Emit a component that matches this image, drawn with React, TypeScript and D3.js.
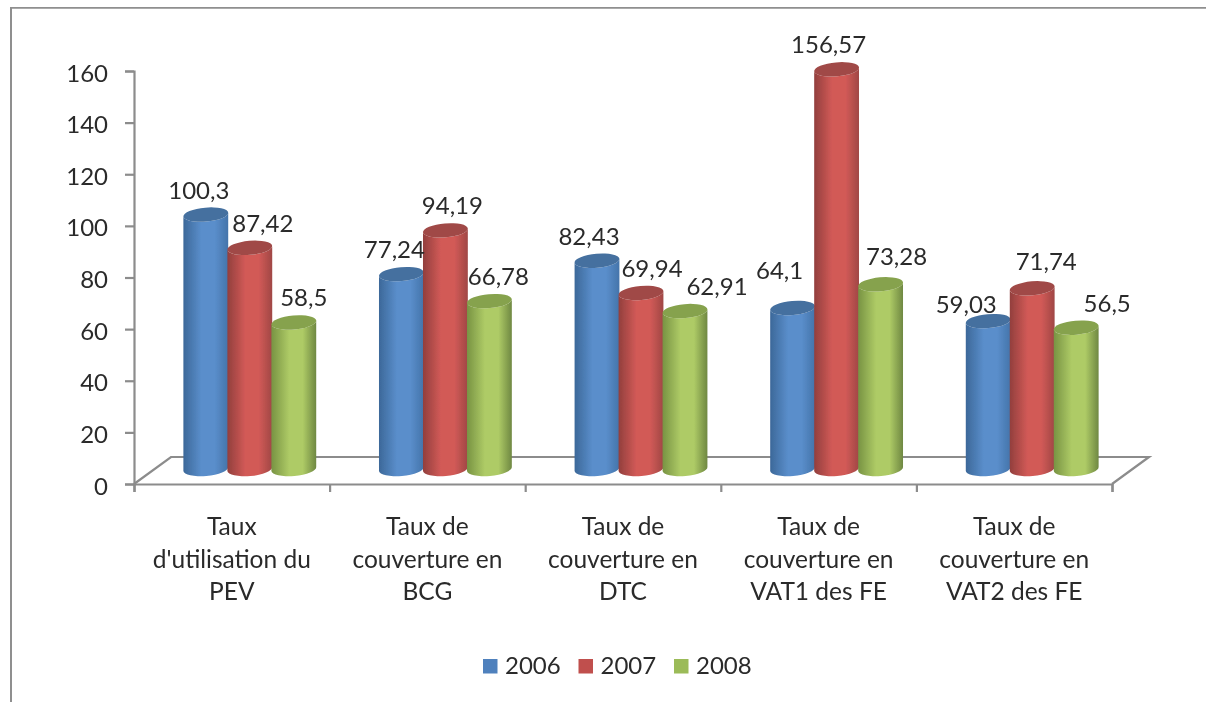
import React, { useEffect, useRef } from "react";
import * as d3 from "d3";

const categories = [
  ["Taux", "d'utilisation du", "PEV"],
  ["Taux de", "couverture en", "BCG"],
  ["Taux de", "couverture en", "DTC"],
  ["Taux de", "couverture en", "VAT1 des FE"],
  ["Taux de", "couverture en", "VAT2 des FE"],
];
const years = ["2006", "2007", "2008"];
const values2006 = [100.3, 77.24, 82.43, 64.1, 59.03];
const values2007 = [87.42, 94.19, 69.94, 156.57, 71.74];
const values2008 = [58.5, 66.78, 62.91, 73.28, 56.5];
const seriesValues = [values2006, values2007, values2008];
const yTicks = [0, 20, 40, 60, 80, 100, 120, 140, 160];

// colours per series: dark edge, light centre, far edge, top cap, legend
const palette = [
  { edge: "#3c6899", mid: "#5a8ecb", far: "#4474aa", cap: "#45709f", flat: "#4f81bd" },
  { edge: "#923f3d", mid: "#d25a57", far: "#a04745", cap: "#a04a47", flat: "#c0504d" },
  { edge: "#789343", mid: "#aecb66", far: "#6f8842", cap: "#86a24d", flat: "#9bbb59" },
];

// hand placed labels, same as moving them in the original chart
const labelDx = [
  [-7, 13, 10],
  [-7, 7, 9],
  [-8, 11, 32],
  [-13, -8, 16],
  [-22, 14, 31],
];
const labelDy = [
  [0, 0, 0],
  [0, 0, 0],
  [0, 0, 0],
  [-13, 0, -3],
  [8, -2, 0],
];

const WIDTH = 1206;
const HEIGHT = 702;
const FONT = "Lato, 'Open Sans', sans-serif";
const AXIS_GREY = "#8c8c8c";
const TEXT = "#2a2a2a";

export default function App() {
  const ref = useRef<SVGSVGElement>(null);

  useEffect(() => {
    const svg = d3.select(ref.current);
    svg.selectAll("*").remove();

    const x = d3.scaleBand<number>().domain(d3.range(categories.length)).range([134, 1112]);
    const y = d3.scaleLinear().domain([0, 160]).range([484, 71]);
    const inner = d3.scaleBand<number>().domain(d3.range(years.length)).range([0, 132]);

    const depthX = 37;
    const depthY = 27;
    const barShiftX = x.bandwidth() / 2 - 66 + 18;
    const capShiftY = -10.5;
    const baseY = 469;
    const rx = 22.5;
    const ry = 7;
    const tilt = -5;
    const tx = rx * Math.cos((tilt * Math.PI) / 180);
    const ty = rx * Math.sin((tilt * Math.PI) / 180);

    const root = svg.append("g").attr("filter", "url(#soft)");
    const defs = svg.append("defs");
    defs
      .append("filter")
      .attr("id", "soft")
      .attr("x", 0)
      .attr("y", 0)
      .attr("width", 1)
      .attr("height", 1)
      .append("feGaussianBlur")
      .attr("stdDeviation", 0.6);

    palette.forEach((c, i) => {
      const grad = defs.append("linearGradient").attr("id", "body" + i);
      grad.append("stop").attr("offset", "0%").attr("stop-color", c.edge);
      grad.append("stop").attr("offset", "40%").attr("stop-color", c.mid);
      grad.append("stop").attr("offset", "70%").attr("stop-color", c.mid);
      grad.append("stop").attr("offset", "100%").attr("stop-color", c.far);
    });

    // outer frame, cropped on the right and bottom
    root
      .append("path")
      .attr("d", `M10.7,${HEIGHT} V7.4 H${WIDTH}`)
      .attr("fill", "none")
      .attr("stroke", "#8f8f8f")
      .attr("stroke-width", 2.6);

    // floor
    const x0 = x.range()[0];
    const x1 = x.range()[1];
    root
      .append("path")
      .attr("d", `M${x0},484 L${x0 + depthX},${484 - depthY} H${x1 + depthX} L${x1},484`)
      .attr("fill", "none")
      .attr("stroke", AXIS_GREY)
      .attr("stroke-width", 2.2);

    // axes
    const yAxis = root
      .append("g")
      .attr("transform", `translate(${x0},0)`)
      .call(d3.axisLeft(y).tickValues(yTicks).tickSize(9).tickPadding(17));
    const xAxis = root
      .append("g")
      .attr("transform", "translate(0,484)")
      .call(
        d3
          .axisBottom(d3.scaleLinear().domain([0, 5]).range([x0, x1]))
          .ticks(5)
          .tickSize(8)
          .tickFormat(() => "")
      );
    [yAxis, xAxis].forEach((a) => {
      a.selectAll("path,line").attr("stroke", AXIS_GREY).attr("stroke-width", 2.2);
    });
    yAxis
      .selectAll("text")
      .attr("font-family", FONT)
      .attr("font-size", 24)
      .attr("dy", "0.42em")
      .attr("fill", TEXT);

    // cylinders
    categories.forEach((_, g) => {
      seriesValues.forEach((vals, s) => {
        const cx = x(g)! + barShiftX + inner(s)! + inner.bandwidth() / 2;
        const top = y(vals[g]) + capShiftY;
        const body =
          `M${cx - tx},${top - ty} L${cx - tx},${baseY - ty} ` +
          `A${rx},${ry} ${tilt} 0 0 ${cx + tx},${baseY + ty} ` +
          `L${cx + tx},${top + ty} ` +
          `A${rx},${ry} ${tilt} 0 1 ${cx - tx},${top - ty} Z`;
        root.append("path").attr("d", body).attr("fill", `url(#body${s})`);
        root
          .append("ellipse")
          .attr("rx", rx)
          .attr("ry", ry)
          .attr("transform", `translate(${cx},${top}) rotate(${tilt})`)
          .attr("fill", palette[s].cap);
      });
    });

    // data labels sit on top of the bars
    categories.forEach((_, g) => {
      seriesValues.forEach((vals, s) => {
        const cx = x(g)! + barShiftX + inner(s)! + inner.bandwidth() / 2;
        root
          .append("text")
          .attr("x", cx + labelDx[g][s])
          .attr("y", y(vals[g]) + capShiftY - 16 + labelDy[g][s])
          .attr("text-anchor", "middle")
          .attr("font-family", FONT)
          .attr("font-size", 24)
          .attr("fill", TEXT)
          .text(String(vals[g]).replace(".", ","));
      });
    });

    // category labels
    categories.forEach((lines, g) => {
      const t = root
        .append("text")
        .attr("text-anchor", "middle")
        .attr("font-family", FONT)
        .attr("font-size", 24.5)
        .attr("fill", TEXT);
      lines.forEach((line, i) => {
        t.append("tspan")
          .attr("x", x(g)! + x.bandwidth() / 2)
          .attr("y", 535 + i * 32.5)
          .text(line);
      });
    });

    // legend
    const legendX = d3.scalePoint<string>().domain(years).range([483, 674]);
    years.forEach((year, i) => {
      const lx = legendX(year)!;
      root
        .append("rect")
        .attr("x", lx)
        .attr("y", 659)
        .attr("width", 14.5)
        .attr("height", 14.5)
        .attr("fill", palette[i].flat);
      root
        .append("text")
        .attr("x", lx + 22)
        .attr("y", 674)
        .attr("font-family", FONT)
        .attr("font-size", 24)
        .attr("fill", TEXT)
        .text(year);
    });
  }, []);

  return (
    <svg
      ref={ref}
      width={WIDTH}
      height={HEIGHT}
      style={{ position: "absolute", left: 0, top: 0, background: "#fff" }}
    />
  );
}
